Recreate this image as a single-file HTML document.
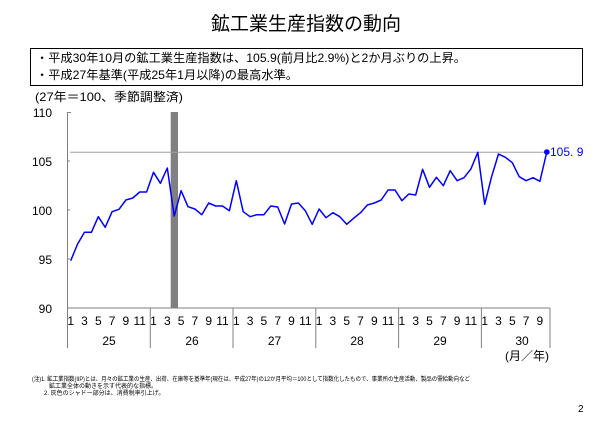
<!DOCTYPE html>
<html><head><meta charset="utf-8"><style>
html,body{margin:0;padding:0;background:#fff;}
svg{display:block;font-family:"Liberation Sans","Noto Sans CJK JP",sans-serif;}
</style></head><body>
<svg width="615" height="426" viewBox="0 0 615 426" xmlns="http://www.w3.org/2000/svg">
<text x="306" y="30" font-size="19" text-anchor="middle" fill="#000">鉱工業生産指数の動向</text>
<rect x="30.5" y="48.5" width="552" height="37" fill="none" stroke="#000" stroke-width="1"/>
<text x="36" y="62" font-size="12" fill="#000" textLength="430" lengthAdjust="spacingAndGlyphs">・平成30年10月の鉱工業生産指数は、105.9(前月比2.9%)と2か月ぶりの上昇。</text>
<text x="36" y="79" font-size="12" fill="#000" textLength="262" lengthAdjust="spacingAndGlyphs">・平成27年基準(平成25年1月以降)の最高水準。</text>
<text x="35" y="101" font-size="12" fill="#000" textLength="148" lengthAdjust="spacingAndGlyphs">(27年＝100、季節調整済)</text>
<g font-size="12" fill="#000" text-anchor="end">
<text x="52" y="117">110</text><text x="52" y="166">105</text><text x="52" y="215">100</text><text x="52" y="264">95</text><text x="52" y="313">90</text>
</g>
<rect x="170.7" y="112" width="7.3" height="196" fill="#808080"/>
<line x1="70" y1="152.2" x2="550" y2="152.2" stroke="#a0a0a0" stroke-width="1"/>
<g stroke="#808080" stroke-width="1">
<line x1="67.5" y1="112" x2="67.5" y2="308"/>
<line x1="67.5" y1="112.5" x2="71" y2="112.5"/>
<line x1="67.5" y1="161" x2="70" y2="161"/>
<line x1="67.5" y1="210" x2="70" y2="210"/>
<line x1="67.5" y1="259" x2="70" y2="259"/>
<line x1="67" y1="308" x2="550" y2="308"/>
<line x1="67.5" y1="308" x2="67.5" y2="348"/>
<line x1="150.3" y1="308" x2="150.3" y2="348"/>
<line x1="233" y1="308" x2="233" y2="348"/>
<line x1="315.8" y1="308" x2="315.8" y2="348"/>
<line x1="398.6" y1="308" x2="398.6" y2="348"/>
<line x1="481.4" y1="308" x2="481.4" y2="348"/>
<line x1="550" y1="308" x2="550" y2="348"/>
</g>
<polyline fill="none" stroke="#0000ff" stroke-width="1.5" stroke-linejoin="round" points="70.7,260.7 77.6,244 84.5,232.3 91.4,232.3 98.3,216.7 105.2,227.3 112.1,211.7 119,209.3 125.9,200 132.8,198 139.7,192 146.6,192 153.5,172.3 160.4,183.3 167.3,168 174.2,216 181.1,190.7 188,206.7 194.9,209 201.8,214.7 208.7,203 215.6,206 222.5,206 229.4,210.7 236.3,180.7 243.2,211.7 250.1,216.7 257,214.7 263.9,214.7 270.8,206 277.7,207 284.6,224 291.5,204 298.4,203 305.3,210.7 312.2,224.3 319.1,209 326,217.7 332.9,212.7 339.8,216.7 346.7,224.3 353.6,218.3 360.5,212.7 367.4,205 374.3,203 381.2,200 388.1,190 395,190 401.9,200.7 408.8,194 415.7,195 422.6,169.3 429.5,187.3 436.4,177.3 443.3,185.7 450.2,170.7 457.1,180.7 464,177.7 470.9,169 477.8,152.3 484.7,204.3 491.6,176.7 498.5,154 505.4,157.3 512.3,162.7 519.2,176.7 526.1,180.7 533,177.7 539.9,181.3 546.8,152"/>
<circle cx="546.8" cy="152" r="2.8" fill="#0000ff"/>
<text x="550" y="156" font-size="12" fill="#0000ff">105. 9</text>
<g font-size="12" fill="#000" text-anchor="middle">
<text x="70.7" y="325">1</text><text x="84.5" y="325">3</text><text x="98.3" y="325">5</text><text x="112.1" y="325">7</text><text x="125.9" y="325">9</text><text x="139.7" y="325">11</text>
<text x="153.5" y="325">1</text><text x="167.3" y="325">3</text><text x="181.1" y="325">5</text><text x="194.9" y="325">7</text><text x="208.7" y="325">9</text><text x="222.5" y="325">11</text>
<text x="236.3" y="325">1</text><text x="250.1" y="325">3</text><text x="263.9" y="325">5</text><text x="277.7" y="325">7</text><text x="291.5" y="325">9</text><text x="305.3" y="325">11</text>
<text x="319.1" y="325">1</text><text x="332.9" y="325">3</text><text x="346.7" y="325">5</text><text x="360.5" y="325">7</text><text x="374.3" y="325">9</text><text x="388.1" y="325">11</text>
<text x="401.9" y="325">1</text><text x="415.7" y="325">3</text><text x="429.5" y="325">5</text><text x="443.3" y="325">7</text><text x="457.1" y="325">9</text><text x="470.9" y="325">11</text>
<text x="484.7" y="325">1</text><text x="498.5" y="325">3</text><text x="512.3" y="325">5</text><text x="526.1" y="325">7</text><text x="539.9" y="325">9</text>
<text x="109" y="345">25</text><text x="192" y="345">26</text><text x="274.5" y="345">27</text><text x="357" y="345">28</text><text x="440" y="345">29</text><text x="522" y="345">30</text>
<text x="527" y="360">(月／年)</text>
</g>
<g font-size="6" fill="#000">
<text x="32" y="381" textLength="438" lengthAdjust="spacingAndGlyphs">(注)1. 鉱工業指数(IIP)とは、月々の鉱工業の生産、出荷、在庫等を基準年(現在は、平成27年)の12か月平均＝100として指数化したもので、事業所の生産活動、製品の需給動向など</text>
<text x="49" y="388">鉱工業全体の動きを示す代表的な指標。</text>
<text x="44" y="395">2. 灰色のシャドー部分は、消費税率引上げ。</text>
</g>
<text x="578" y="412" font-size="10" fill="#000">2</text>
</svg>
</body></html>
